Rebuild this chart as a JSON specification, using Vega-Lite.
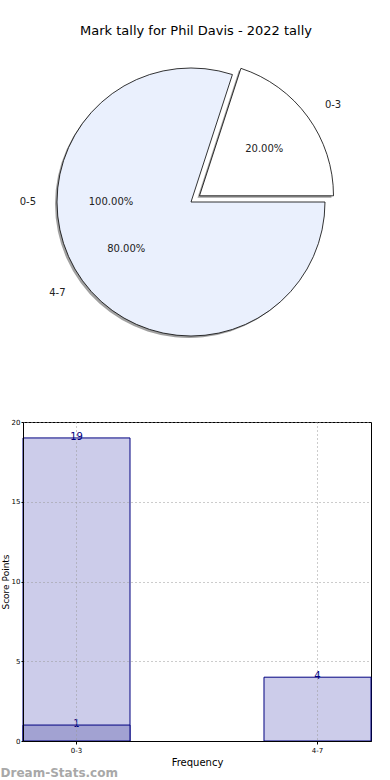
{
  "$schema": "https://vega.github.io/schema/vega-lite/v6.json",
  "padding": {"top": 25, "left": 0, "right": 0, "bottom": 0},
  "spacing": 52,
  "background": "white",
  "config": {"font": "DejaVu Sans", "view": {"stroke": "#000000", "strokeWidth": 1}},
  "datasets": {"slices": [{"range": "0-3", "count": 1, "pct": "20.00%"}, {"range": "4-7", "count": 4, "pct": "80.00%"}]},
  "title": {"text": "Dream-Stats.com", "orient": "bottom", "anchor": "start", "frame": "bounds", "fontSize": 12, "fontWeight": "bold", "color": "#a8a8a8", "offset": 0},
  "vconcat": [
    {
      "width": 336,
      "height": 326,
      "view": {"stroke": null},
      "title": {"text": "Mark tally for Phil Davis - 2022 tally", "fontSize": 13, "fontWeight": "normal", "color": "#000000", "dx": 5, "offset": 1},
      "layer": [
        {
          "data": {"name": "slices"},
          "mark": {"type": "arc", "radius": 134, "fill": "#8a8a8a", "stroke": null, "xOffset": -2, "yOffset": 2},
          "encoding": {
            "theta": {"field": "count", "type": "quantitative", "stack": true, "scale": {"range": [0.314159, 6.597345]}},
            "order": {"field": "range"},
            "opacity": {"condition": {"test": "datum.range == '4-7'", "value": 0.8}, "value": 0}
          }
        },
        {
          "data": {"name": "slices"},
          "mark": {"type": "arc", "radius": 134, "fill": "#8a8a8a", "stroke": null, "xOffset": 6.5, "yOffset": -4.2},
          "encoding": {
            "theta": {"field": "count", "type": "quantitative", "stack": true, "scale": {"range": [0.314159, 6.597345]}},
            "order": {"field": "range"},
            "opacity": {"condition": {"test": "datum.range == '0-3'", "value": 0.8}, "value": 0}
          }
        },
        {
          "data": {"name": "slices"},
          "mark": {"type": "arc", "radius": 134, "stroke": "#000000", "strokeWidth": 0.8, "fill": "#eaf0fd"},
          "encoding": {
            "theta": {"field": "count", "type": "quantitative", "stack": true, "scale": {"range": [0.314159, 6.597345]}},
            "order": {"field": "range"},
            "opacity": {"condition": {"test": "datum.range == '4-7'", "value": 1}, "value": 0}
          }
        },
        {
          "data": {"name": "slices"},
          "mark": {"type": "arc", "radius": 134, "stroke": "#000000", "strokeWidth": 0.8, "fill": "#ffffff", "xOffset": 8.5, "yOffset": -6.2},
          "encoding": {
            "theta": {"field": "count", "type": "quantitative", "stack": true, "scale": {"range": [0.314159, 6.597345]}},
            "order": {"field": "range"},
            "opacity": {"condition": {"test": "datum.range == '0-3'", "value": 1}, "value": 0}
          }
        },
        {
          "data": {"name": "slices"},
          "mark": {"type": "text", "radius": 155, "align": "left", "baseline": "middle", "fontSize": 10, "color": "#222222", "xOffset": 8.5, "yOffset": -6.2},
          "encoding": {
            "theta": {"field": "count", "type": "quantitative", "stack": true, "scale": {"range": [0.314159, 6.597345]}},
            "order": {"field": "range"},
            "text": {"field": "range"},
            "opacity": {"condition": {"test": "datum.range == '0-3'", "value": 1}, "value": 0}
          }
        },
        {
          "data": {"name": "slices"},
          "mark": {"type": "text", "radius": 80, "align": "center", "baseline": "middle", "fontSize": 10, "color": "#222222", "xOffset": 8.5, "yOffset": -6.2},
          "encoding": {
            "theta": {"field": "count", "type": "quantitative", "stack": true, "scale": {"range": [0.314159, 6.597345]}},
            "order": {"field": "range"},
            "text": {"field": "pct"},
            "opacity": {"condition": {"test": "datum.range == '0-3'", "value": 1}, "value": 0}
          }
        },
        {
          "data": {"name": "slices"},
          "mark": {"type": "text", "radius": 155, "align": "right", "baseline": "middle", "fontSize": 10, "color": "#222222"},
          "encoding": {
            "theta": {"field": "count", "type": "quantitative", "stack": true, "scale": {"range": [0.314159, 6.597345]}},
            "order": {"field": "range"},
            "text": {"field": "range"},
            "opacity": {"condition": {"test": "datum.range == '4-7'", "value": 1}, "value": 0}
          }
        },
        {
          "data": {"name": "slices"},
          "mark": {"type": "text", "radius": 80, "align": "center", "baseline": "middle", "fontSize": 10, "color": "#222222"},
          "encoding": {
            "theta": {"field": "count", "type": "quantitative", "stack": true, "scale": {"range": [0.314159, 6.597345]}},
            "order": {"field": "range"},
            "text": {"field": "pct"},
            "opacity": {"condition": {"test": "datum.range == '4-7'", "value": 1}, "value": 0}
          }
        },
        {
          "data": {"values": [{"range": "0-5", "count": 1, "pct": "100.00%"}]},
          "mark": {"type": "text", "radius": 155, "align": "right", "baseline": "middle", "fontSize": 10, "color": "#222222"},
          "encoding": {
            "theta": {"field": "count", "type": "quantitative", "stack": true, "scale": {"range": [1.570796, 7.853982]}},
            "text": {"field": "range"}
          }
        },
        {
          "data": {"values": [{"range": "0-5", "count": 1, "pct": "100.00%"}]},
          "mark": {"type": "text", "radius": 80, "align": "center", "baseline": "middle", "fontSize": 10, "color": "#222222"},
          "encoding": {
            "theta": {"field": "count", "type": "quantitative", "stack": true, "scale": {"range": [1.570796, 7.853982]}},
            "text": {"field": "pct"}
          }
        }
      ],
      "resolve": {"scale": {"theta": "independent"}}
    },
    {
      "width": 348,
      "height": 319,
      "data": {"values": [
        {"range": "0-3", "series": "a", "value": 19},
        {"range": "0-3", "series": "b", "value": 1},
        {"range": "4-7", "series": "a", "value": 4}
      ]},
      "encoding": {
        "x": {"field": "range", "type": "nominal", "title": "Frequency", "sort": null,
          "scale": {"paddingInner": 0.556, "paddingOuter": 0},
          "axis": {"labelAngle": 0, "labelFontSize": 7, "titleFontSize": 10, "titleFontWeight": "normal", "titlePadding": 4, "grid": true, "gridDash": [1, 3], "gridColor": "#999999", "bandPosition": 0.5, "domainColor": "#000000", "tickColor": "#000000", "tickSize": 3, "zindex": 1}},
        "y": {"field": "value", "type": "quantitative", "title": "Score Points",
          "scale": {"domain": [0, 20]},
          "axis": {"values": [0, 5, 10, 15, 20], "labelFontSize": 7, "labelPadding": 1, "titleFontSize": 9, "titleFontWeight": "normal", "titlePadding": 1, "gridDash": [1, 3], "gridColor": "#999999", "domainColor": "#000000", "tickColor": "#000000", "tickSize": 2, "zindex": 1}}
      },
      "layer": [
        {
          "mark": {"type": "bar", "stroke": "#000080", "strokeWidth": 1},
          "encoding": {
            "y": {"field": "value", "type": "quantitative", "stack": null},
            "fill": {"condition": {"test": "datum.series == 'b'", "value": "#a2a2d2"}, "value": "#ccccea"}
          }
        },
        {
          "mark": {"type": "text", "baseline": "bottom", "dy": 4, "fontSize": 10, "color": "#000080"},
          "encoding": {"text": {"field": "value"}}
        }
      ]
    }
  ]
}
